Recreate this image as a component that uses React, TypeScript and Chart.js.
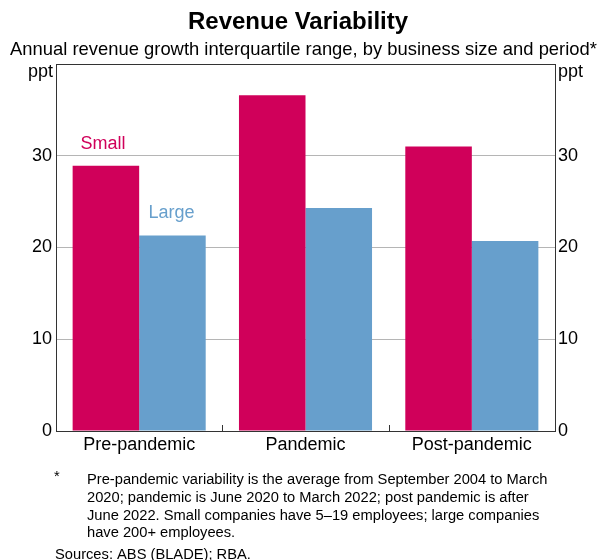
import React, { useEffect, useRef } from "react";
import { Chart, registerables } from "chart.js";

Chart.register(...registerables);

const categories = ["Pre-pandemic", "Pandemic", "Post-pandemic"];
const smallValues = [28.9, 36.6, 31.0];
const largeValues = [21.3, 24.3, 20.7];
const yTicks = [0, 10, 20, 30];
const titleText = "Revenue Variability";
const subtitleText = "Annual revenue growth interquartile range, by business size and period*";
const footnoteLines = [
  "Pre-pandemic variability is the average from September 2004 to March",
  "2020; pandemic is June 2020 to March 2022; post pandemic is after",
  "June 2022. Small companies have 5\u201319 employees; large companies",
  "have 200+ employees.",
];
const sourcesText = "Sources: ABS (BLADE); RBA.";

const SMALL_COLOR = "#D0005A";
const LARGE_COLOR = "#679FCC";
const FONT = "Arial, 'Liberation Sans', sans-serif";

const textPlugin = {
  id: "textPlugin",
  afterDraw(chart: any) {
    const ctx = chart.ctx;
    const area = chart.chartArea;
    ctx.save();
    ctx.strokeStyle = "#333333";
    ctx.lineWidth = 1;
    ctx.beginPath();
    ctx.moveTo(area.left, area.top + 0.5);
    ctx.lineTo(area.right, area.top + 0.5);
    ctx.stroke();
    const xs = chart.scales.x;
    for (let i = 1; i < categories.length; i++) {
      const px = Math.round((xs.getPixelForValue(i - 1) + xs.getPixelForValue(i)) / 2) + 0.5;
      ctx.beginPath();
      ctx.moveTo(px, area.bottom);
      ctx.lineTo(px, area.bottom - 6);
      ctx.stroke();
    }
    ctx.fillStyle = "#000";
    ctx.textBaseline = "alphabetic";
    ctx.font = `bold 24px ${FONT}`;
    ctx.textAlign = "center";
    ctx.fillText(titleText, 298, 29);
    ctx.font = `18.4px ${FONT}`;
    ctx.fillText(subtitleText, 303.5, 55);
    ctx.font = `18px ${FONT}`;
    ctx.textAlign = "right";
    ctx.fillText("ppt", area.left - 3, 77);
    ctx.textAlign = "left";
    ctx.fillText("ppt", area.right + 3, 77);
    const m0 = chart.getDatasetMeta(0).data[0];
    const m1 = chart.getDatasetMeta(1).data[0];
    ctx.textAlign = "center";
    ctx.fillStyle = SMALL_COLOR;
    ctx.fillText("Small", m0.x - 3, m0.y - 17);
    ctx.fillStyle = LARGE_COLOR;
    ctx.fillText("Large", m1.x - 1, m1.y - 18);
    ctx.fillStyle = "#000";
    ctx.textAlign = "left";
    ctx.font = `14.7px ${FONT}`;
    ctx.fillText("*", 54, 481);
    footnoteLines.forEach((line, i) => {
      ctx.fillText(line, 87, 484 + i * 17.8);
    });
    ctx.fillText(sourcesText, 55, 559);
    ctx.restore();
  },
};

export default function App() {
  const ref = useRef<HTMLCanvasElement>(null);
  useEffect(() => {
    if (!ref.current) return;
    const gridColor = (c: any) =>
      c.tick && c.tick.value > 0 && c.tick.value < 40 ? "#b5b5b5" : "rgba(0,0,0,0)";
    const tickCb = (v: any) => (yTicks.includes(v) ? String(v) : "");
    const chart = new Chart(ref.current, {
      type: "bar",
      data: {
        labels: categories,
        datasets: [
          {
            label: "Small",
            data: smallValues,
            backgroundColor: SMALL_COLOR,
            categoryPercentage: 0.8,
            barPercentage: 1.0,
            yAxisID: "y",
          },
          {
            label: "Large",
            data: largeValues,
            backgroundColor: LARGE_COLOR,
            categoryPercentage: 0.8,
            barPercentage: 1.0,
            yAxisID: "y",
          },
        ],
      },
      options: {
        responsive: false,
        animation: false,
        layout: { padding: { top: 64, left: 0, right: 0, bottom: 0 } },
        plugins: { legend: { display: false }, tooltip: { enabled: false }, title: { display: false } },
        scales: {
          x: {
            grid: { display: false },
            border: { display: true, color: "#333333", width: 1 },
            ticks: { color: "#000", font: { family: FONT, size: 18 }, padding: -5, maxRotation: 0 },
            afterFit: (s: any) => {
              s.height = 129;
            },
          },
          y: {
            position: "left",
            min: 0,
            max: 40,
            grid: { color: gridColor, drawTicks: false },
            border: { display: true, color: "#333333", width: 1 },
            ticks: { stepSize: 10, callback: tickCb, color: "#000", font: { family: FONT, size: 18 }, padding: 4 },
            afterFit: (s: any) => {
              s.width = 56;
            },
          },
          y2: {
            position: "right",
            min: 0,
            max: 40,
            grid: { display: false, drawTicks: false },
            border: { display: true, color: "#333333", width: 1 },
            ticks: { stepSize: 10, callback: tickCb, color: "#000", font: { family: FONT, size: 18 }, padding: 3 },
            afterFit: (s: any) => {
              s.width = 43;
            },
          },
        },
      },
      plugins: [textPlugin],
    });
    return () => chart.destroy();
  }, []);
  return (
    <div style={{ position: "absolute", left: 0, top: 0, width: 598, height: 560, background: "#fff" }}>
      <canvas ref={ref} width={598} height={560} style={{ display: "block" }} />
    </div>
  );
}
